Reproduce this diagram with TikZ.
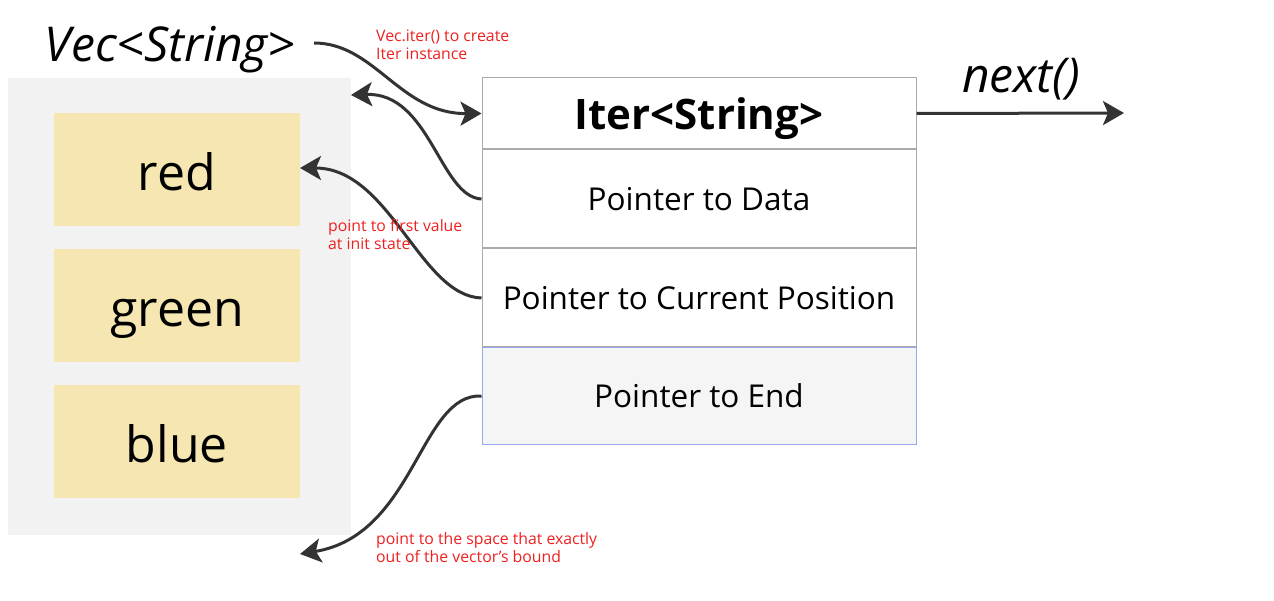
\documentclass[tikz,border=0pt]{standalone}
\usepackage{fontspec}
\setmainfont{Open Sans}
\usetikzlibrary{arrows.meta,positioning}
\definecolor{panelgray}{RGB}{242,242,242}
\definecolor{itemyellow}{RGB}{245,230,178}
\definecolor{linegray}{RGB}{170,170,170}
\definecolor{edgeblue}{RGB}{150,170,235}
\definecolor{arrowgray}{RGB}{51,51,51}
\definecolor{notered}{RGB}{238,32,32}
\begin{document}
\begin{tikzpicture}[
  x=1pt, y=-1pt,
  panel/.style={fill=panelgray, minimum width=343pt, minimum height=457pt, inner sep=0pt},
  item/.style={fill=itemyellow, minimum width=246pt, minimum height=113pt, inner sep=0pt, text height=42pt, text depth=0pt, font=\fontsize{50}{56}\selectfont},
  cell/.style={draw=linegray, line width=1pt, fill=white, minimum width=434pt, minimum height=98pt, inner sep=0pt, font=\fontsize{31.5}{36}\selectfont},
  title/.style={font=\fontsize{48}{56}\selectfont\itshape, inner sep=0pt},
  note/.style={text=notered, align=left, anchor=north west, inner sep=0pt, font=\fontsize{15.8}{18}\selectfont},
  arr/.style={-{Stealth[length=21pt, width=24pt, inset=5pt]}, line width=3pt, draw=arrowgray}
]
\useasboundingbox (0,0) rectangle (1274,601);
% vector side
\node[panel] (vec) at (179.5,306.5) {};
\node[item] (red) at (177,169.5) {red};
\node[item] (green) at (177,305.5) {green};
\node[item] (blue) at (177,441) {blue};
\node[title, anchor=base] (veclabel) at (170,62) {Vec<String>};
% iterator struct
\node[cell, minimum height=71pt, text depth=0pt, font=\fontsize{42}{48}\selectfont\bfseries] (head) at (699,113.5) {Iter<String>};
\node[cell, below=0pt of head] (data) {Pointer to Data};
\node[cell, below=0pt of data] (cur) {Pointer to Current Position};
\node[cell, below=0pt of cur, minimum height=96pt, fill=black!4, draw=edgeblue] (end) {Pointer to End};
\node[title, anchor=base] (nextlabel) at (1021,93) {next()};
% free ends
\coordinate (vecout) at (314,43);
\coordinate (nexttip) at (1124,113);
\coordinate (datatip) at (351,95);
\coordinate (curtip) at (300,168);
\coordinate (endtip) at (300,554);
% connectors
\draw[arr] (vecout) .. controls (375,43) and (400,114) .. (head.west);
\draw[arr] (data.west) .. controls (440,197) and (430,92) .. (datatip);
\draw[arr] (cur.west) .. controls (420,296) and (390,168) .. (curtip);
\draw[arr] (end.west) .. controls (420,393) and (415,535) .. (endtip);
\draw[arr] (head.east) -- (nexttip);
% notes
\node[note] (iternote) at (376,30) {Vec.iter() to create\\Iter instance};
\node[note] (firstnote) at (328,219) {point to first value\\at init state};
\node[note] (endnote) at (376,532) {point to the space that exactly\\out of the vector's bound};
\end{tikzpicture}
\end{document}
